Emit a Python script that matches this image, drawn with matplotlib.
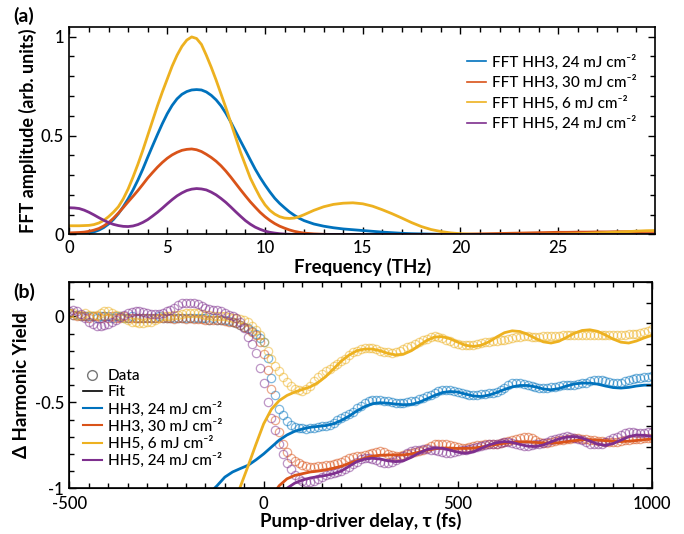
import numpy as np
import matplotlib
matplotlib.use("Agg")
import matplotlib.pyplot as plt
from matplotlib.lines import Line2D

plt.rcParams['font.family'] = ['Lato', 'DejaVu Sans']
plt.rcParams['font.weight'] = 'medium'

# ---- panel (a): FFT amplitude ----
# fine steps over the main peak, coarser above 12 THz
freq = np.concatenate([np.arange(0, 12, 0.25), np.arange(12, 30.01, 0.5)])

fft_hh3_24 = [0.0, 0.0, 0.002, 0.004, 0.007, 0.013, 0.022, 0.035,
              0.053, 0.076, 0.105, 0.14, 0.18, 0.225, 0.275, 0.33,
              0.39, 0.448, 0.505, 0.56, 0.61, 0.652, 0.685, 0.708,
              0.722, 0.73, 0.732, 0.73, 0.72, 0.703, 0.68, 0.65,
              0.612, 0.568, 0.52, 0.472, 0.425, 0.377, 0.33, 0.288,
              0.25, 0.215, 0.183, 0.157, 0.135, 0.114, 0.097, 0.082,
              0.07, 0.053, 0.042, 0.034, 0.028, 0.024, 0.02, 0.016, 0.012, 0.009,
              0.006, 0.004, 0.003, 0.002, 0.001] + [0.0] * 22
fft_hh3_30 = [0.008, 0.009, 0.01, 0.012, 0.016, 0.022, 0.03, 0.043,
              0.06, 0.082, 0.108, 0.136, 0.165, 0.193, 0.222, 0.253,
              0.285, 0.313, 0.34, 0.364, 0.385, 0.402, 0.415, 0.425,
              0.43, 0.432, 0.428, 0.419, 0.405, 0.389, 0.37, 0.347,
              0.32, 0.29, 0.258, 0.226, 0.195, 0.165, 0.138, 0.112,
              0.09, 0.071, 0.055, 0.042, 0.032, 0.023, 0.016, 0.011,
              0.007, 0.003, 0.001] + [0.0] * 13 + \
             [0.001, 0.002, 0.003, 0.004, 0.005, 0.006, 0.007, 0.008, 0.009, 0.01,
              0.011, 0.011, 0.012, 0.012, 0.013, 0.013, 0.014, 0.014, 0.014, 0.015, 0.015]
fft_hh5_6 = [0.044, 0.044, 0.044, 0.045, 0.046, 0.05, 0.058, 0.071,
             0.09, 0.113, 0.14, 0.18, 0.23, 0.29, 0.355, 0.425,
             0.5, 0.575, 0.65, 0.72, 0.785, 0.85, 0.905, 0.95,
             0.982, 0.998, 0.99, 0.96, 0.905, 0.845, 0.78, 0.71,
             0.64, 0.565, 0.49, 0.415, 0.35, 0.285, 0.235, 0.188,
             0.15, 0.122, 0.103, 0.09, 0.083, 0.081, 0.083, 0.09,
             0.1, 0.122, 0.14, 0.152, 0.158, 0.16, 0.155, 0.143, 0.125, 0.105,
             0.083, 0.06, 0.04, 0.025, 0.015, 0.008, 0.004, 0.002, 0.001, 0.001,
             0.001, 0.001, 0.001, 0.001, 0.001, 0.002, 0.002, 0.003, 0.004, 0.006,
             0.008, 0.01, 0.012, 0.014, 0.017, 0.019, 0.02]
fft_hh5_24 = [0.135, 0.134, 0.131, 0.123, 0.112, 0.099, 0.085, 0.072,
              0.06, 0.051, 0.045, 0.041, 0.04, 0.043, 0.05, 0.061,
              0.075, 0.093, 0.112, 0.133, 0.155, 0.176, 0.195, 0.21,
              0.222, 0.229, 0.232, 0.23, 0.225, 0.214, 0.2, 0.182,
              0.162, 0.139, 0.115, 0.092, 0.07, 0.052, 0.037, 0.026,
              0.017, 0.011, 0.007, 0.004, 0.002, 0.001, 0.0, 0.0] + [0.0] * 37

# ---- panel (b): harmonic yield vs delay ----
delay = np.arange(-500, 1001, 10)

data_hh3_24 = [
    0.02, 0.01, 0.01, 0.0, 0.0, 0.0, 0.0, -0.01, 0.0, 0.0,
    0.0, -0.01, 0.0, 0.0, -0.01, -0.01, 0.0, -0.01, -0.01, -0.01,
    -0.01, -0.01, -0.01, 0.0, -0.01, -0.01, -0.01, -0.01, -0.01, -0.01,
    -0.01, -0.01, -0.01, -0.01, -0.01, -0.01, -0.02, -0.01, -0.02, -0.02,
    -0.02, -0.025, -0.03, -0.04, -0.05, -0.06, -0.07, -0.085, -0.10, -0.125,
    -0.15, -0.24, -0.36, -0.46, -0.54, -0.575, -0.61, -0.63, -0.643, -0.65,
    -0.652, -0.655, -0.65, -0.648, -0.645, -0.64, -0.635, -0.63, -0.62, -0.605,
    -0.59, -0.58, -0.57, -0.555, -0.535, -0.52, -0.505, -0.495, -0.488, -0.485,
    -0.485, -0.49, -0.495, -0.5, -0.505, -0.505, -0.505, -0.50, -0.495, -0.49,
    -0.483, -0.475, -0.465, -0.455, -0.445, -0.435, -0.43, -0.428, -0.43, -0.435,
    -0.44, -0.445, -0.45, -0.455, -0.456, -0.455, -0.452, -0.45, -0.448, -0.445,
    -0.44, -0.43, -0.415, -0.40, -0.39, -0.388, -0.39, -0.395, -0.40, -0.405,
    -0.41, -0.415, -0.417, -0.415, -0.413, -0.41, -0.405, -0.40, -0.398, -0.398,
    -0.398, -0.395, -0.39, -0.385, -0.378, -0.372, -0.369, -0.372, -0.378, -0.383,
    -0.386, -0.388, -0.385, -0.378, -0.37, -0.362, -0.359, -0.357, -0.355, -0.352,
    -0.345]
data_hh3_30 = [
    0.02, 0.01, 0.0, 0.0, 0.0, -0.01, 0.0, 0.0, -0.01, 0.0,
    -0.01, 0.0, -0.01, -0.01, 0.0, -0.01, -0.01, -0.01, -0.01, -0.01,
    -0.01, -0.01, -0.01, -0.01, -0.01, -0.01, -0.01, -0.015, -0.01, -0.01,
    -0.015, -0.01, -0.015, -0.015, -0.015, -0.02, -0.02, -0.02, -0.02, -0.02,
    -0.025, -0.03, -0.035, -0.04, -0.05, -0.06, -0.075, -0.09, -0.11, -0.15,
    -0.22, -0.31, -0.42, -0.60, -0.675, -0.74, -0.79, -0.825, -0.843, -0.855,
    -0.865, -0.872, -0.876, -0.876, -0.873, -0.87, -0.866, -0.862, -0.858, -0.852,
    -0.845, -0.835, -0.825, -0.82, -0.815, -0.81, -0.805, -0.80, -0.795, -0.79,
    -0.785, -0.79, -0.80, -0.805, -0.81, -0.81, -0.805, -0.80, -0.795, -0.79,
    -0.785, -0.775, -0.765, -0.755, -0.745, -0.74, -0.74, -0.745, -0.75, -0.755,
    -0.76, -0.765, -0.765, -0.76, -0.755, -0.75, -0.748, -0.745, -0.745, -0.745,
    -0.74, -0.735, -0.73, -0.725, -0.72, -0.715, -0.705, -0.70, -0.70, -0.71,
    -0.72, -0.73, -0.735, -0.735, -0.73, -0.725, -0.72, -0.718, -0.715, -0.712,
    -0.71, -0.71, -0.712, -0.715, -0.718, -0.72, -0.722, -0.725, -0.728, -0.73,
    -0.73, -0.728, -0.725, -0.72, -0.718, -0.715, -0.712, -0.712, -0.71, -0.71,
    -0.71]
data_hh5_6 = [
    0.02, 0.02, 0.01, 0.01, 0.02, 0.01, 0.0, 0.01, 0.02, 0.03,
    0.03, 0.02, 0.01, 0.0, -0.01, -0.02, -0.03, -0.035, -0.04, -0.04,
    -0.035, -0.03, -0.02, -0.01, 0.0, 0.0, 0.005, 0.01, 0.01, 0.015,
    0.02, 0.02, 0.02, 0.02, 0.015, 0.01, 0.01, 0.005, 0.0, 0.0,
    0.0, -0.005, -0.01, -0.01, -0.015, -0.02, -0.03, -0.055, -0.08, -0.11,
    -0.15, -0.2, -0.245, -0.29, -0.32, -0.35, -0.38, -0.405, -0.42, -0.43,
    -0.433, -0.425, -0.405, -0.375, -0.352, -0.335, -0.32, -0.305, -0.29, -0.275,
    -0.26, -0.245, -0.225, -0.21, -0.2, -0.19, -0.185, -0.182, -0.185, -0.19,
    -0.2, -0.205, -0.21, -0.215, -0.21, -0.2, -0.19, -0.18, -0.17, -0.16,
    -0.15, -0.14, -0.13, -0.12, -0.117, -0.12, -0.125, -0.135, -0.145, -0.155,
    -0.16, -0.165, -0.168, -0.168, -0.165, -0.16, -0.155, -0.15, -0.148, -0.146,
    -0.145, -0.14, -0.135, -0.13, -0.125, -0.12, -0.118, -0.117, -0.117, -0.118,
    -0.118, -0.118, -0.117, -0.116, -0.115, -0.114, -0.112, -0.11, -0.108, -0.107,
    -0.106, -0.106, -0.107, -0.107, -0.107, -0.107, -0.107, -0.107, -0.107, -0.107,
    -0.107, -0.107, -0.108, -0.107, -0.105, -0.103, -0.1, -0.097, -0.093, -0.085,
    -0.072]
data_hh5_24 = [
    0.03, 0.04, 0.03, 0.012, -0.01, -0.03, -0.045, -0.055, -0.056, -0.05,
    -0.045, -0.035, -0.02, -0.005, 0.01, 0.02, 0.028, 0.03, 0.03, 0.025,
    0.02, 0.015, 0.012, 0.015, 0.02, 0.03, 0.04, 0.05, 0.065, 0.075,
    0.08, 0.08, 0.075, 0.07, 0.06, 0.05, 0.045, 0.04, 0.035, 0.03,
    0.02, 0.01, 0.0, -0.012, -0.035, -0.07, -0.12, -0.16, -0.215, -0.30,
    -0.39, -0.50, -0.59, -0.66, -0.74, -0.80, -0.85, -0.89, -0.925, -0.945,
    -0.958, -0.963, -0.962, -0.955, -0.945, -0.935, -0.925, -0.918, -0.912, -0.908,
    -0.9, -0.89, -0.875, -0.86, -0.845, -0.83, -0.825, -0.825, -0.83, -0.838,
    -0.845, -0.85, -0.85, -0.845, -0.835, -0.825, -0.81, -0.795, -0.785, -0.78,
    -0.775, -0.772, -0.772, -0.775, -0.78, -0.785, -0.79, -0.795, -0.795, -0.79,
    -0.785, -0.78, -0.775, -0.77, -0.765, -0.76, -0.755, -0.75, -0.745, -0.742,
    -0.74, -0.735, -0.73, -0.73, -0.735, -0.742, -0.748, -0.752, -0.752, -0.75,
    -0.745, -0.74, -0.735, -0.728, -0.72, -0.712, -0.705, -0.70, -0.698, -0.70,
    -0.705, -0.712, -0.72, -0.73, -0.74, -0.745, -0.745, -0.74, -0.73, -0.72,
    -0.71, -0.7, -0.69, -0.68, -0.675, -0.675, -0.678, -0.68, -0.678, -0.675,
    -0.675]

fit_delay = np.arange(-140, 1001, 20)
nan = np.nan
fit_hh3_24 = [-1.03, -0.985, -0.935, -0.905, -0.885, -0.866, -0.835, -0.80, -0.76, -0.72,
              -0.69, -0.668, -0.655, -0.645, -0.64, -0.635, -0.625, -0.605, -0.58, -0.55,
              -0.525, -0.508, -0.502, -0.505, -0.51, -0.514, -0.512, -0.5, -0.48, -0.46,
              -0.443, -0.437, -0.44, -0.452, -0.463, -0.466, -0.458, -0.443, -0.425, -0.41,
              -0.402, -0.402, -0.41, -0.422, -0.427, -0.42, -0.405, -0.393, -0.388, -0.388,
              -0.394, -0.405, -0.414, -0.417, -0.413, -0.405, -0.40, -0.40]
fit_hh3_30 = [nan, nan, nan, nan, nan, nan, nan, nan, -1.05, -0.985,
              -0.945, -0.925, -0.915, -0.905, -0.9, -0.893, -0.883, -0.872, -0.855, -0.84,
              -0.825, -0.813, -0.808, -0.806, -0.806, -0.806, -0.8, -0.79, -0.778, -0.77,
              -0.766, -0.766, -0.768, -0.768, -0.766, -0.76, -0.752, -0.745, -0.738, -0.732,
              -0.73, -0.73, -0.733, -0.736, -0.737, -0.735, -0.729, -0.723, -0.718, -0.717,
              -0.719, -0.723, -0.727, -0.728, -0.726, -0.722, -0.717, -0.714]
fit_hh5_6 = [nan, nan, nan, -1.1, -0.99, -0.87, -0.745, -0.625, -0.54, -0.49,
             -0.46, -0.44, -0.425, -0.41, -0.385, -0.35, -0.305, -0.26, -0.225, -0.2,
             -0.19, -0.19, -0.2, -0.215, -0.224, -0.22, -0.2, -0.17, -0.14, -0.12,
             -0.118, -0.13, -0.15, -0.168, -0.175, -0.168, -0.148, -0.12, -0.095, -0.084,
             -0.088, -0.105, -0.128, -0.148, -0.155, -0.145, -0.122, -0.098, -0.082, -0.078,
             -0.087, -0.108, -0.132, -0.15, -0.155, -0.143, -0.125, -0.11]
fit_hh5_24 = [nan, nan, nan, nan, nan, nan, nan, nan, nan, -1.06,
              -1.0, -0.97, -0.952, -0.94, -0.932, -0.925, -0.915, -0.9, -0.872, -0.845,
              -0.83, -0.825, -0.83, -0.84, -0.845, -0.84, -0.82, -0.795, -0.775, -0.766,
              -0.767, -0.778, -0.79, -0.796, -0.788, -0.768, -0.748, -0.735, -0.728, -0.733,
              -0.745, -0.755, -0.757, -0.748, -0.73, -0.713, -0.702, -0.699, -0.708, -0.725,
              -0.743, -0.75, -0.74, -0.72, -0.7, -0.69, -0.692, -0.699]

colors = ['#0072BD', '#D95319', '#EDB120', '#7E2F8E']
labels = ['HH3, 24 mJ cm⁻²', 'HH3, 30 mJ cm⁻²',
          'HH5, 6 mJ cm⁻²', 'HH5, 24 mJ cm⁻²']

fig = plt.figure(figsize=(6.84, 5.34), dpi=100)
ax_a = fig.add_axes([0.1016, 0.5609, 0.856, 0.3885])
ax_b = fig.add_axes([0.1016, 0.0856, 0.8516, 0.3863])


def style_axes(ax):
    ax.tick_params(which='both', direction='in', top=True, right=True,
                   width=1.0, labelsize=12, pad=4)
    ax.tick_params(which='major', length=5)
    ax.tick_params(which='minor', length=3.5)
    for s in ax.spines.values():
        s.set_linewidth(1.2)


# (a)
for y, c, lab in zip([fft_hh3_24, fft_hh3_30, fft_hh5_6, fft_hh5_24], colors, labels):
    ax_a.plot(freq, y, color=c, lw=2.0, label='FFT ' + lab)
ax_a.set_xlim(0, 29.95)
ax_a.set_ylim(0, 1.048)
ax_a.set_xticks([0, 5, 10, 15, 20, 25])
ax_a.set_xticks(np.arange(0, 30, 1), minor=True)
ax_a.set_yticks([0, 0.5, 1])
ax_a.set_yticklabels(['0', '0.5', '1'])
ax_a.set_yticks(np.arange(0, 1.01, 0.1), minor=True)
style_axes(ax_a)
ax_a.set_xlabel('Frequency (THz)', fontsize=13.5, fontweight='bold', labelpad=1)
ax_a.set_ylabel('FFT amplitude (arb. units)', fontsize=13, fontweight='bold', labelpad=3)
leg_a = ax_a.legend(loc='upper right', bbox_to_anchor=(1.0, 0.955), frameon=False,
                    fontsize=11, handlelength=1.2, handletextpad=0.4,
                    labelspacing=0.35, borderaxespad=0.8)
for h in leg_a.get_lines():
    h.set_linewidth(1.2)
fig.text(0.019, 0.988, '(a)', fontsize=14, fontweight='bold', va='top')

# (b)
for y, c in zip([data_hh3_24, data_hh3_30, data_hh5_6, data_hh5_24], colors):
    ax_b.plot(delay, y, 'o', mfc='none', mec=c, ms=6, mew=0.9, alpha=0.5)
for y, c in zip([fit_hh3_24, fit_hh3_30, fit_hh5_6, fit_hh5_24], colors):
    ax_b.plot(fit_delay, y, color=c, lw=2.0)
ax_b.set_xlim(-500, 1000)
ax_b.set_ylim(-1, 0.2)
ax_b.set_xticks([-500, 0, 500, 1000])
ax_b.set_xticks(np.arange(-500, 1001, 50), minor=True)
ax_b.set_xticklabels(['-500', '0', '500', '1000'])
ax_b.set_yticks([-1, -0.5, 0])
ax_b.set_yticklabels(['-1', '-0.5', '0'])
ax_b.set_yticks(np.arange(-1, 0.21, 0.1), minor=True)
style_axes(ax_b)
ax_b.tick_params(which='both', right=False)
ax_b.tick_params(axis='x', pad=5.5)
ax_b.set_xlabel('Pump-driver delay, τ (fs)', fontsize=13.5, fontweight='bold', labelpad=0)
ax_b.set_ylabel('Δ Harmonic Yield', fontsize=13.5, fontweight='bold', labelpad=3)

ax_r = ax_b.twinx()
ax_r.set_ylim(0, 1)
ax_r.set_yticks(np.arange(0, 1.01, 0.1))
ax_r.tick_params(direction='in', length=4, width=1.0, labelright=False)

handles = [Line2D([], [], ls='none', marker='o', mfc='none', mec='#777777', ms=7, mew=1.0),
           Line2D([], [], color='black', lw=1.2)]
handles += [Line2D([], [], color=c, lw=1.5) for c in colors]
ax_b.legend(handles, ['Data', 'Fit'] + labels, loc='lower left', frameon=False,
            fontsize=11, handlelength=1.2, handletextpad=0.4, labelspacing=0.14,
            bbox_to_anchor=(0.0, 0.03))
fig.text(0.019, 0.47, '(b)', fontsize=14, fontweight='bold', va='top')

fig.savefig('out.png', dpi=100)
